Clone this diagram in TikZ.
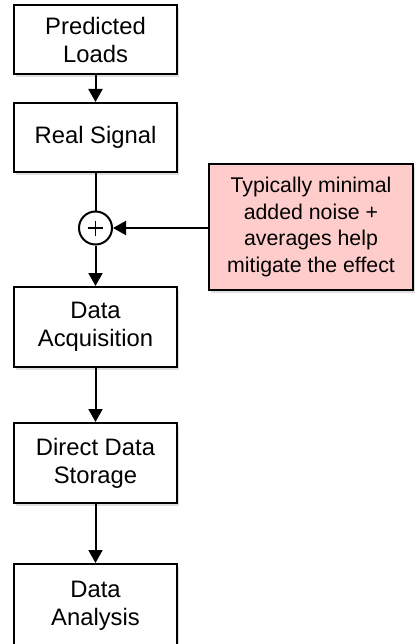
\documentclass[tikz,border=0pt]{standalone}
\usepackage{fontspec}
\setmainfont{Liberation Sans}
\usetikzlibrary{arrows.meta,shadows}
\definecolor{notepink}{HTML}{FFCCCC}
\tikzset{
  flowbox/.style={draw=black, line width=2pt, fill=white, inner sep=0pt,
    minimum width=163pt, align=center,
    font=\fontsize{23.8}{28}\selectfont,
    drop shadow={opacity=0.25, shadow xshift=2pt, shadow yshift=-3pt}},
  notebox/.style={flowbox, fill=notepink, minimum width=204pt, minimum height=126pt,
    font=\fontsize{21.3}{26.7}\selectfont},
  sumnode/.style={circle, draw=black, line width=2pt, fill=white, minimum size=33pt, inner sep=0pt},
  link/.style={line width=2pt, draw=black},
  flow/.style={link, -{Triangle[length=13pt,width=14pt]}}
}
\begin{document}
\begin{tikzpicture}[x=1pt,y=-1pt]
  \useasboundingbox (0,0) rectangle (415,644);
  % main chain of processing stages
  \node[flowbox, minimum height=69pt] (loads) at (95.5,39.5) {Predicted\\Loads};
  \node[flowbox, minimum height=69pt] (signal) at (95.5,137.5) {Real Signal};
  \node[sumnode] (sum) at (95.5,228) {};
  \draw[line width=1.8pt] ([xshift=-7.5pt]sum.center) -- ([xshift=7.5pt]sum.center)
                          ([yshift=-7.5pt]sum.center) -- ([yshift=7.5pt]sum.center);
  \node[flowbox, minimum height=80pt] (acq) at (95.5,327) {Data\\Acquisition};
  \node[flowbox, minimum height=80pt] (store) at (95.5,463) {Direct Data\\Storage};
  \node[flowbox, minimum height=84pt] (analysis) at (95.5,606) {Data\\Analysis};
  % noise note feeding the summing junction
  \node[notebox] (noise) at (311,227) {Typically minimal\\added noise +\\averages help\\mitigate the effect};
  % connectors
  \draw[flow] (loads) -- (signal);
  \draw[link] (signal) -- (sum);
  \draw[flow] (sum) -- (acq);
  \draw[flow] (acq) -- (store);
  \draw[flow] (store) -- (analysis);
  \draw[flow] (noise.west |- sum) -- (sum);
\end{tikzpicture}
\end{document}
